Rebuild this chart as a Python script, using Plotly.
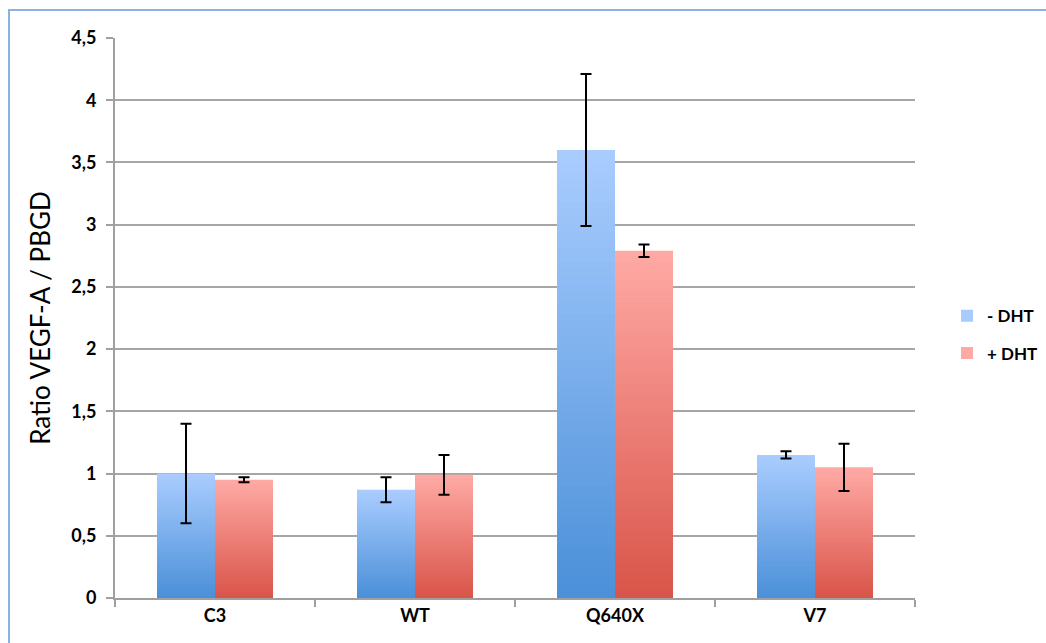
import plotly.graph_objects as go

categories = ["C3", "WT", "Q640X", "V7"]
minus_dht = [1.00, 0.87, 3.60, 1.15]
minus_err = [0.40, 0.10, 0.61, 0.03]
plus_dht = [0.95, 0.99, 2.79, 1.05]
plus_err = [0.02, 0.16, 0.05, 0.19]
series_names = ["- DHT", "+ DHT"]
y_ticks = [0, 0.5, 1, 1.5, 2, 2.5, 3, 3.5, 4, 4.5]

W, H = 1046, 643
L, R, T, B = 115, 131, 38, 45

blue_top, blue_bot = (170, 205, 255), (74, 143, 216)
red_top, red_bot = (255, 170, 165), (217, 84, 73)

def mix(c1, c2, t):
    return "rgb(%d,%d,%d)" % tuple(round(a + (b - a) * t) for a, b in zip(c1, c2))

fig = go.Figure()
N = 60
series = [
    (series_names[0], minus_dht, minus_err, blue_top, blue_bot, "m"),
    (series_names[1], plus_dht, plus_err, red_top, red_bot, "p"),
]
for name, vals, errs, ctop, cbot, grp in series:
    for k in range(N, 0, -1):
        frac = k / N
        fig.add_trace(go.Bar(
            x=categories, y=[v * frac for v in vals],
            name=name, offsetgroup=grp, legendgroup=grp,
            showlegend=(k == N),
            marker=dict(color=mix(cbot, ctop, frac - 0.5 / N), line=dict(width=0)),
            hoverinfo="skip" if k != N else None,
        ))
for name, vals, errs, ctop, cbot, grp in series:
    fig.add_trace(go.Bar(
        x=categories, y=vals, name=name, offsetgroup=grp, legendgroup=grp,
        showlegend=False,
        marker=dict(color="rgba(0,0,0,0)", line=dict(width=0)),
        error_y=dict(type="data", array=errs, color="black", thickness=2, width=5.5, visible=True),
    ))

tickfont = dict(size=18, family="Lato", weight="bold", color="black")
fig.update_layout(
    width=W, height=H,
    margin=dict(l=L, r=R, t=T, b=B, autoexpand=False),
    paper_bgcolor="white", plot_bgcolor="white",
    barmode="group", bargap=0.42, bargroupgap=0,
    separators=", ",
    font=dict(family="Lato, Open Sans, sans-serif", color="black"),
    showlegend=True,
    legend=dict(x=1.04, y=0.47, xanchor="left", yanchor="middle",
                font=dict(size=17, family="Lato", color="black", weight="bold"),
                itemsizing="constant", tracegroupgap=12, bgcolor="rgba(0,0,0,0)"),
    xaxis=dict(
        type="category", showgrid=False, automargin=False,
        showline=True, linecolor="#a0a0a0", linewidth=2,
        ticks="outside", tickson="boundaries", ticklen=7, tickcolor="#a0a0a0", tickwidth=2,
        tickfont=tickfont,
    ),
    yaxis=dict(
        range=[0, 4.5], tickvals=y_ticks, tickformat="~g", automargin=False,
        showgrid=True, gridcolor="#a6a6a6", gridwidth=2,
        showline=True, linecolor="#a0a0a0", linewidth=2,
        ticks="outside", ticklen=7, tickcolor="#a0a0a0", tickwidth=2,
        ticklabelstandoff=6,
        tickfont=tickfont,
        title=dict(text="Ratio VEGF-A / PBGD", font=dict(size=26, family="Lato", color="black"), standoff=13),
        zeroline=False,
    ),
)

pw, ph = W - L - R, H - T - B
fig.add_shape(type="rect", xref="paper", yref="paper",
              x0=(9 - L) / pw, x1=(1060 - L) / pw,
              y0=(H - B - 660) / ph, y1=(H - B - 10) / ph,
              line=dict(color="#8cb2e0", width=2), fillcolor="rgba(0,0,0,0)", layer="below")

fig.write_html("out.html", config={"displayModeBar": False},
               post_script="document.body.style.margin='0';document.body.style.padding='0';")
